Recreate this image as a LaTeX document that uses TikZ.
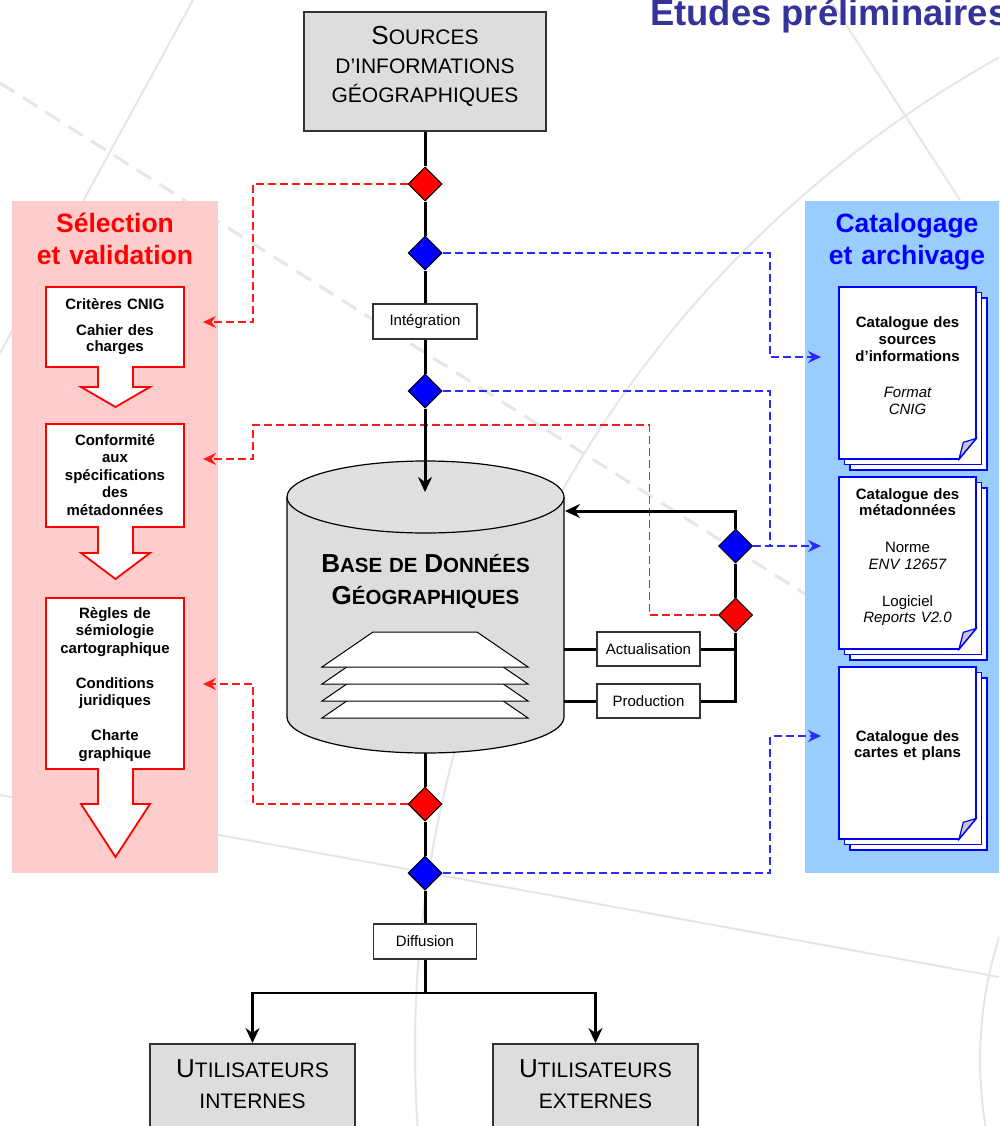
\documentclass[tikz,border=0pt]{standalone}
\usepackage{fontspec}
\setmainfont{Liberation Sans}
\usetikzlibrary{shapes.geometric,arrows.meta,calc}

\definecolor{bggray}{HTML}{E6E6E6}
\definecolor{boxgray}{HTML}{DDDDDD}
\definecolor{selpink}{HTML}{FFCCCC}
\definecolor{catblue}{HTML}{99CCFF}
\definecolor{titleblue}{HTML}{333399}
\definecolor{selred}{HTML}{FF1A1A}
\definecolor{catdashblue}{HTML}{2B2BFF}
\definecolor{flapgray}{HTML}{C8C8C8}

\newcommand\fsz[2]{\fontsize{#1}{#2}\selectfont}
\newcommand\bigsc[2]{{\fsz{26}{30}#1}{\fsz{21}{30}#2}}
\newcommand\boldsc[2]{{\fsz{26}{32}#1}{\fsz{20.5}{32}#2}}

% three stacked sheets with a curled corner
\newcommand\docstack[2]{%
  \begin{scope}[shift={(#1,#2)}]
    \draw[pageedge] (11,11) rectangle (148,183);
    \draw[pageedge] (5.5,5.5) rectangle (142.5,177.5);
    \draw[pageedge] (0,0) -- (137,0) -- (137,151.5) -- (120,172) -- (0,172) -- cycle;
    \draw[pageedge, fill=flapgray, line width=1.2pt] (120,172) -- (124.3,155.3) -- (137,151.5) -- cycle;
  \end{scope}}

\tikzset{
  bgline/.style={draw=bggray, line width=2pt},
  flowline/.style={line width=3pt, draw=black},
  blacktip/.style={-{Stealth[length=15pt,width=14pt,inset=5pt]}},
  seldash/.style={draw=selred, line width=1.6pt, dash pattern=on 8pt off 4pt},
  catdash/.style={draw=catdashblue, line width=1.6pt, dash pattern=on 8pt off 4pt},
  dashtip/.style={-{Stealth[length=13pt,width=12pt,inset=4.5pt]}},
  diam/.style={diamond, aspect=1, draw=black, line width=1pt, inner sep=0pt,
    minimum width=34pt, minimum height=34pt},
  stepbox/.style={rectangle, draw=black!80, fill=white, line width=1.5pt, inner sep=0pt,
    minimum height=35pt, minimum width=104pt, font=\fsz{15}{17}},
  graybox/.style={rectangle, draw=black!80, fill=boxgray, line width=2pt, inner sep=0pt},
  txt/.style={anchor=base, inner sep=0pt, align=center, text width=#1},
  selshape/.style={draw=red, fill=white, line width=1.8pt, line join=miter},
  pageedge/.style={draw=blue, fill=white, line width=1.8pt},
}

\begin{document}
\begin{tikzpicture}[x=1pt,y=-1pt]
\useasboundingbox (0,0) rectangle (999,1126);
\clip (0,0) rectangle (999,1126);
\fill[white] (0,0) rectangle (999,1126);

% decorative background strokes
\draw[bgline] (193,0) -- (0,353);
\draw[bgline] (830,0) -- (960,200);
\draw[bgline] (0,795) -- (999,977);
\draw[bgline] (1550,1050) circle[radius=1135pt];
\draw[bgline] (1380,1060) circle[radius=400pt];
\draw[bggray, line width=3pt, dash pattern=on 17pt off 10pt] (0,83) -- (805,594);

% side panels
\fill[selpink] (12,201) rectangle (218,872.5);
\fill[catblue] (805,201) rectangle (1010,873);

% heading
\node[anchor=base west, inner sep=0pt, text=titleblue, font=\fsz{36.4}{40}\bfseries]
  (heading) at (650,26) {Etudes préliminaires};

% panel titles
\node[txt=200pt, text=red, font=\fsz{26.5}{32.5}\bfseries] (seltitle) at (115,232)
  {Sélection\\et validation};
\node[txt=200pt, text=blue, font=\fsz{26.5}{32.5}\bfseries] (cattitle) at (907,232)
  {Catalogage\\et archivage};

% selection steps
\draw[selshape] (46,287) -- (184,287) -- (184,367) -- (133,367) -- (133,387) -- (150,387)
  -- (115.5,407) -- (81,387) -- (98,387) -- (98,367) -- (46,367) -- cycle;
\draw[selshape] (46,424) -- (184,424) -- (184,527) -- (133,527) -- (133,553) -- (150,553)
  -- (115.5,579) -- (81,553) -- (98,553) -- (98,527) -- (46,527) -- cycle;
\draw[selshape] (46,598) -- (184,598) -- (184,769) -- (133,769) -- (133,804) -- (150,804)
  -- (115.5,857) -- (81,804) -- (98,804) -- (98,769) -- (46,769) -- cycle;
\node[txt=136pt, font=\fsz{15}{16}\bfseries] (seltxta) at (115,309)
  {Critères CNIG\\[10pt]Cahier des\\charges};
\node[txt=136pt, font=\fsz{15}{17.5}\bfseries] (seltxtb) at (115,445)
  {Conformité\\aux\\spécifications\\des\\métadonnées};
\node[txt=136pt, font=\fsz{15}{17.5}\bfseries] (seltxtc) at (115,618)
  {Règles de\\sémiologie\\cartographique\\[17.5pt]Conditions\\juridiques\\[17.5pt]Charte\\graphique};

% catalogue sheets
\docstack{839}{287}
\docstack{839}{477}
\docstack{839}{667}
\node[txt=136pt, font=\fsz{15}{17}] (doctxta) at (907.5,327)
  {{\bfseries Catalogue des\\sources\\d’informations}\\[19pt]{\itshape Format\\CNIG}};
\node[txt=136pt, font=\fsz{15}{16.5}] (doctxtb) at (907.5,499)
  {{\bfseries Catalogue des\\métadonnées}\\[20.5pt]Norme\\{\itshape ENV 12657}\\[20.5pt]Logiciel\\{\itshape Reports V2.0}};
\node[txt=136pt, font=\fsz{15}{16.5}\bfseries] (doctxtc) at (907.5,741)
  {Catalogue des\\cartes et plans};

% geographic database cylinder
\fill[boxgray] (287,497) rectangle (564,717);
\fill[boxgray] (425.5,717) ellipse[x radius=138.5pt, y radius=36pt];
\draw[line width=1.2pt] (287,497) -- (287,717)
  arc[start angle=180, end angle=360, x radius=138.5pt, y radius=36pt] -- (564,497);
\draw[line width=1.2pt, fill=boxgray!90!white] (425.5,497) ellipse[x radius=138.5pt, y radius=36pt];
\foreach \d in {51,34,17,0}
  \draw[line width=1pt, fill=white] (373,632+\d) -- (477,632+\d) -- (528,667+\d) -- (322,667+\d) -- cycle;
\node[txt=280pt, font=\fsz{20.5}{32}\bfseries] (dbtext) at (425.5,572)
  {\boldsc{B}{ASE DE }\boldsc{D}{ONNÉES}\\\boldsc{G}{ÉOGRAPHIQUES}};
\coordinate (dbtop) at (425,492);
\coordinate (dbbot) at (425,753);
\coordinate (dbin) at (565,511);
\coordinate (dbact) at (564,649);
\coordinate (dbprod) at (564,701);

% sources and users
\node[graybox, minimum width=242pt, minimum height=119pt] (src) at (425,71.5) {};
\node[txt=240pt, font=\fsz{21}{29}] (srctext) at (425,45)
  {\bigsc{S}{OURCES}\\D’INFORMATIONS\\GÉOGRAPHIQUES};
\node[graybox, minimum width=205pt, minimum height=110pt] (uint) at (252.5,1099) {};
\node[graybox, minimum width=205pt, minimum height=110pt] (uext) at (595.5,1099) {};
\node[txt=200pt, font=\fsz{21}{31}] (uinttext) at (252.5,1077) {\bigsc{U}{TILISATEURS}\\INTERNES};
\node[txt=200pt, font=\fsz{21}{31}] (uexttext) at (595.5,1077) {\bigsc{U}{TILISATEURS}\\EXTERNES};

% process steps and control points
\node[diam, fill=red] (r1) at (425,184) {};
\node[diam, fill=blue] (b1) at (425,253) {};
\node[stepbox] (integ) at (425,321.5) {Intégration};
\node[diam, fill=blue] (b2) at (425,391) {};
\node[diam, fill=blue] (b3) at (735.5,546) {};
\node[diam, fill=red] (r2) at (735.5,615) {};
\node[stepbox, minimum width=103pt, minimum height=34pt] (actu) at (648.5,649) {Actualisation};
\node[stepbox, minimum width=103pt, minimum height=34pt] (prod) at (648.5,701) {Production};
\node[diam, fill=red] (r3) at (425,804) {};
\node[diam, fill=blue] (b4) at (425,873) {};
\node[stepbox, minimum width=103pt] (diff) at (425,941.5) {Diffusion};
\coordinate (branch) at (425,993);
\coordinate (loopbot) at (735.5,701);

% validation links
\coordinate (sa) at (203,322);
\coordinate (sb) at (203,459);
\coordinate (sc) at (203,684);
\draw[seldash, dashtip] (r1.west) -| (253,322) -- (sa);
\draw[seldash, dashtip] (r2.west) -| (649.5,425) -| (253,459) -- (sb);
\draw[seldash, dashtip] (r3.west) -| (253,684) -- (sc);

% cataloguing links
\coordinate (ca) at (821,357);
\coordinate (cb) at (821,546);
\coordinate (cc) at (821,736);
\draw[catdash, dashtip] (b1.east) -| (770,357) -- (ca);
\draw[catdash] (b2.east) -| (770,546);
\draw[catdash, dashtip] (b3.east) -- (cb);
\draw[catdash, dashtip] (b4.east) -| (770,736) -- (cc);

% main flow
\draw[flowline] (src.south) -- (r1.north);
\draw[flowline] (r1.south) -- (b1.north);
\draw[flowline] (b1.south) -- (integ.north);
\draw[flowline] (integ.south) -- (b2.north);
\draw[flowline, blacktip] (b2.south) -- (dbtop);

% update loop
\draw[flowline, blacktip] (b3.north) |- (dbin);
\draw[flowline] (b3.south) -- (r2.north);
\draw[flowline] (r2.south) -- (loopbot) -- (prod.east);
\draw[flowline] (actu.east) -- (actu.east -| loopbot);
\draw[flowline] (dbact) -- (actu.west);
\draw[flowline] (dbprod) -- (prod.west);

% distribution
\draw[flowline] (dbbot) -- (r3.north);
\draw[flowline] (r3.south) -- (b4.north);
\draw[flowline] (b4.south) -- (diff.north);
\draw[flowline] (diff.south) -- (branch);
\draw[line width=2.4pt, blacktip] (branch) -| (uint.north);
\draw[line width=2.4pt, blacktip] (branch) -| (uext.north);
\end{tikzpicture}
\end{document}
